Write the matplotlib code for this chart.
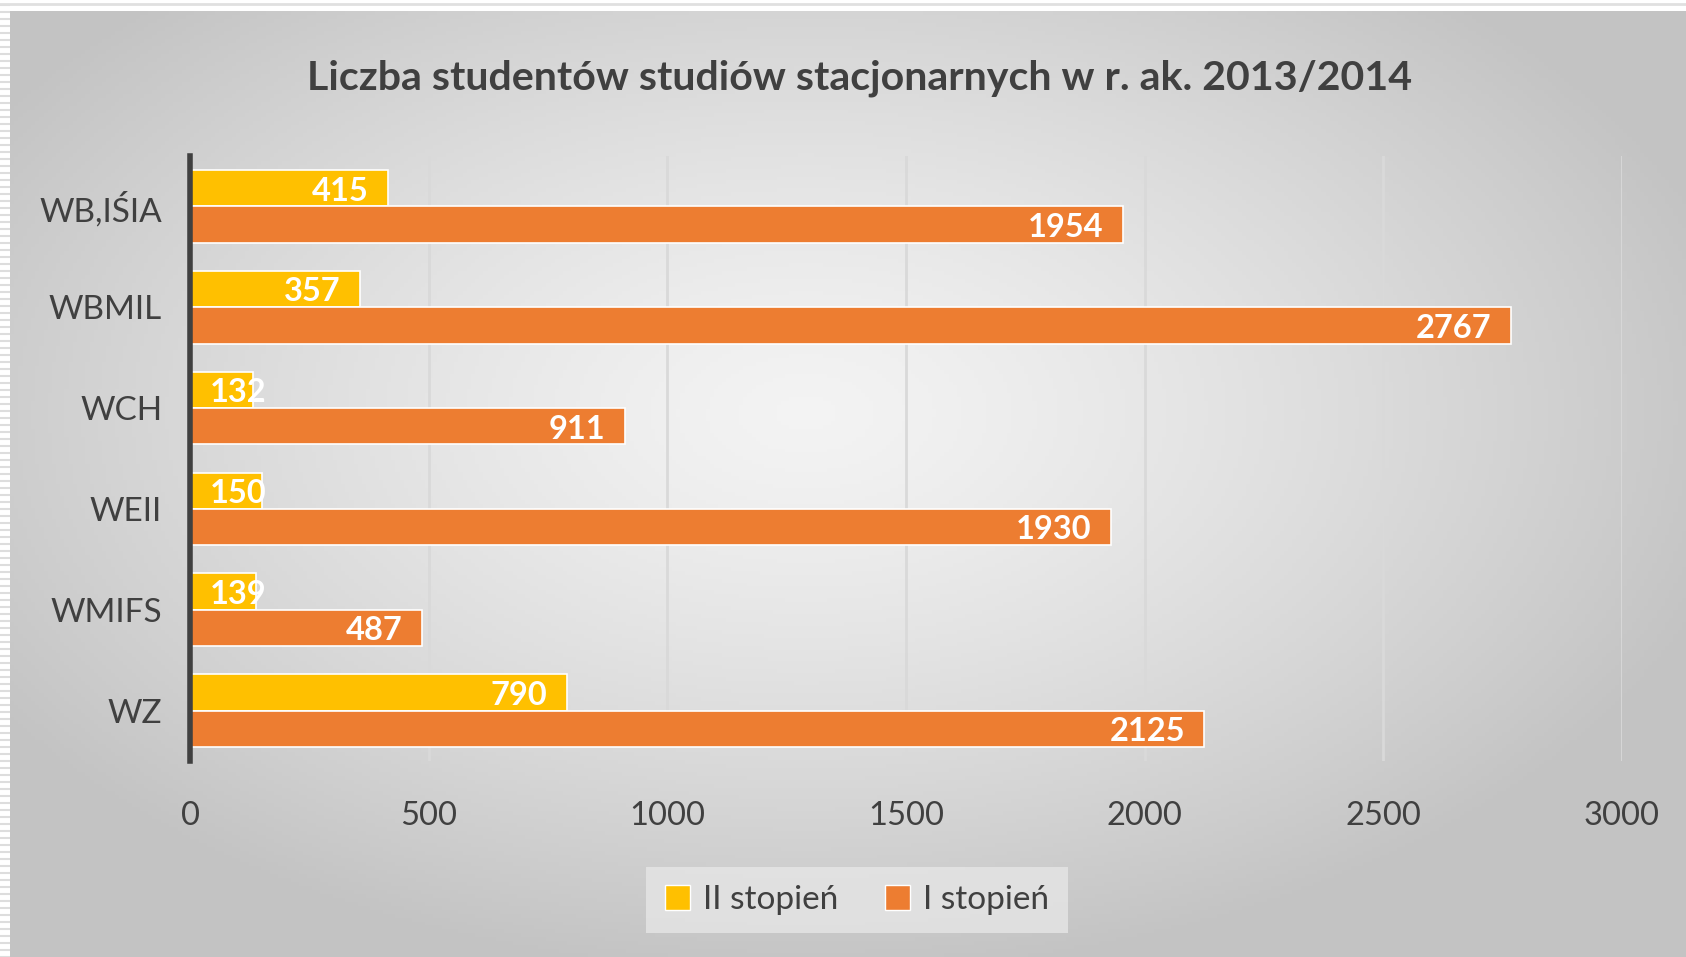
import numpy as np
import matplotlib
matplotlib.use('Agg')
import matplotlib.pyplot as plt
from matplotlib.patches import Patch

plt.rcParams['font.family'] = ['Lato', 'DejaVu Sans']

# dane
categories = ['WB,IŚIA', 'WBMIL', 'WCH', 'WEII', 'WMIFS', 'WZ']
ii_stopien = [415, 357, 132, 150, 139, 790]
i_stopien = [1954, 2767, 911, 1930, 487, 2125]
xticks = [0, 500, 1000, 1500, 2000, 2500, 3000]

yellow = '#FFC000'
orange = '#ED7D31'
text_col = '#404040'

W, H = 1686, 957
fig = plt.figure(figsize=(W / 100, H / 100), dpi=100)
fig.patch.set_facecolor('white')

# tlo z gradientem
bg = fig.add_axes([10 / W, 0, 1 - 10 / W, 1 - 11 / H])
bg.set_axis_off()
gx, gy = np.meshgrid(np.linspace(-1, 1, 400), np.linspace(-1, 1, 240))
r = np.sqrt(((gx + 0.05) / 1.15) ** 2 + ((gy + 0.15) / 1.2) ** 2)
r = np.clip(r, 0, 1)
shade = 0.955 - 0.19 * r ** 1.3
bg.imshow(np.dstack([shade, shade, shade]), aspect='auto', extent=[0, 1, 0, 1])
bg.set_xlim(0, 1)
bg.set_ylim(0, 1)

# paski na lewym brzegu
strip = fig.add_axes([0, 0, 10 / W, 1])
strip.set_axis_off()
for yy in np.arange(0, 1, 7 / H):
    strip.axhline(yy, color='#dddddd', lw=1.5)
fig.add_artist(plt.Line2D([0, 1], [1 - 4 / H, 1 - 4 / H], color='#e0e0e0', lw=2))

ax = fig.add_axes([190 / W, 1 - 761 / H, 1432 / W, 605 / H])
ax.patch.set_alpha(0)

y = np.arange(len(categories))
h = 0.36
bars2 = ax.barh(y - h / 2, ii_stopien, height=h, color=yellow, edgecolor='white', linewidth=1.2, label='II stopień', zorder=3)
bars1 = ax.barh(y + h / 2, i_stopien, height=h, color=orange, edgecolor='white', linewidth=1.2, label='I stopień', zorder=3)

for bars, vals in ((bars2, ii_stopien), (bars1, i_stopien)):
    for b, v in zip(bars, vals):
        yc = b.get_y() + b.get_height() / 2
        if v < 200:
            ax.annotate(str(v), (0, yc), xytext=(14, -2), textcoords='offset points',
                        ha='left', va='center', color='white', fontsize=23.5, fontweight='bold', zorder=4)
        else:
            ax.annotate(str(v), (v, yc), xytext=(-14, -2), textcoords='offset points',
                        ha='right', va='center', color='white', fontsize=23.5, fontweight='bold', zorder=4)

ax.set_xlim(0, 3000)
ax.set_ylim(len(categories) - 0.5, -0.5)
ax.set_xticks(xticks)
ax.set_yticks(y)
ax.set_yticklabels(categories)
ax.tick_params(axis='x', length=0, pad=29, labelsize=23.5, labelcolor=text_col)
ax.tick_params(axis='y', length=0, pad=20, labelsize=24, labelcolor=text_col)
ax.grid(axis='x', color='#d9d9d9', lw=2, zorder=0)
for s in ('top', 'right', 'bottom'):
    ax.spines[s].set_visible(False)
ax.spines['left'].set_color('#404040')
ax.spines['left'].set_linewidth(4)
ax.spines['left'].set_zorder(5)

fig.text(860 / W, 1 - 78 / H, 'Liczba studentów studiów stacjonarnych w r. ak. 2013/2014',
         ha='center', va='center', fontsize=29.6, fontweight='bold', color=text_col)

handles = [Patch(facecolor=yellow, edgecolor='white'), Patch(facecolor=orange, edgecolor='white')]
leg = fig.legend(handles, ['II stopień', 'I stopień'], loc='center', bbox_to_anchor=(857 / W, 1 - 900 / H),
                 ncol=2, frameon=True, fontsize=24, handlelength=0.75, handleheight=0.75,
                 handletextpad=0.4, columnspacing=1.4, borderpad=0.55, borderaxespad=0, fancybox=False)
leg.get_frame().set_facecolor('#e6e6e6')
leg.get_frame().set_edgecolor('none')
for t in leg.get_texts():
    t.set_color(text_col)

fig.savefig('out.png', dpi=100)
